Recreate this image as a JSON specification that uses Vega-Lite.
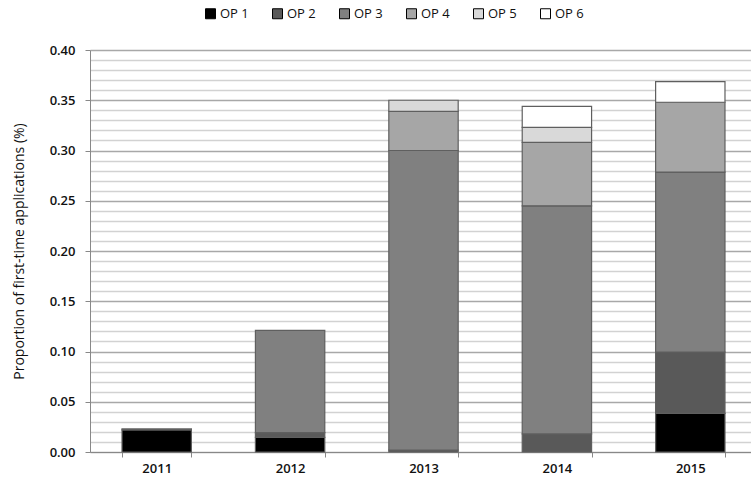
{
  "$schema": "https://vega.github.io/schema/vega-lite/v6.json",
  "width": 667,
  "height": 402,
  "autosize": "none",
  "padding": {"left": 90, "top": 50, "right": 0, "bottom": 35},
  "background": "white",
  "config": {
    "font": "Open Sans",
    "view": {"stroke": null},
    "axis": {"labelFont": "Open Sans", "titleFont": "Open Sans", "labelColor": "#111", "titleColor": "#111"}
  },
  "data": {
    "values": [
      {"year": "2011", "series": "OP 1", "value": 0.022},
      {"year": "2011", "series": "OP 3", "value": 0.001},
      {"year": "2012", "series": "OP 1", "value": 0.0145},
      {"year": "2012", "series": "OP 2", "value": 0.0047},
      {"year": "2012", "series": "OP 3", "value": 0.1018},
      {"year": "2013", "series": "OP 2", "value": 0.002},
      {"year": "2013", "series": "OP 3", "value": 0.298},
      {"year": "2013", "series": "OP 4", "value": 0.039},
      {"year": "2013", "series": "OP 5", "value": 0.011},
      {"year": "2014", "series": "OP 2", "value": 0.018},
      {"year": "2014", "series": "OP 3", "value": 0.227},
      {"year": "2014", "series": "OP 4", "value": 0.063},
      {"year": "2014", "series": "OP 5", "value": 0.015},
      {"year": "2014", "series": "OP 6", "value": 0.021},
      {"year": "2015", "series": "OP 1", "value": 0.0385},
      {"year": "2015", "series": "OP 2", "value": 0.061},
      {"year": "2015", "series": "OP 3", "value": 0.179},
      {"year": "2015", "series": "OP 4", "value": 0.0695},
      {"year": "2015", "series": "OP 6", "value": 0.0205}
    ]
  },
  "mark": {"type": "bar", "stroke": "#5f5f5f", "strokeWidth": 1.2},
  "encoding": {
    "x": {
      "field": "year",
      "type": "nominal",
      "scale": {"paddingInner": 0.48, "paddingOuter": 0.24},
      "axis": {
        "title": null,
        "labelAngle": 0,
        "labelFontSize": 13,
        "labelFontWeight": 600,
        "labelPadding": 5,
        "tickBand": "extent",
        "tickSize": 5,
        "tickColor": "#888",
        "domainColor": "#888",
        "grid": false
      }
    },
    "y": {
      "field": "value",
      "type": "quantitative",
      "stack": "zero",
      "scale": {"domain": [0, 0.4], "nice": false},
      "axis": {
        "title": "Proportion of first-time applications (%)",
        "titleFontSize": 14,
        "titleFontWeight": "normal",
        "titlePadding": 23,
        "values": [0, 0.01, 0.02, 0.03, 0.04, 0.05, 0.06, 0.07, 0.08, 0.09, 0.1, 0.11, 0.12, 0.13, 0.14, 0.15, 0.16, 0.17, 0.18, 0.19, 0.2, 0.21, 0.22, 0.23, 0.24, 0.25, 0.26, 0.27, 0.28, 0.29, 0.3, 0.31, 0.32, 0.33, 0.34, 0.35, 0.36, 0.37, 0.38, 0.39, 0.4],
        "labelExpr": "abs(datum.value*20 - round(datum.value*20)) < 0.001 ? format(datum.value, '.2f') : ''",
        "labelFontSize": 13,
        "labelFontWeight": 600,
        "labelPadding": 10,
        "tickSize": 5,
        "tickColor": "#888",
        "tickOpacity": {"condition": {"test": "abs(datum.value*20 - round(datum.value*20)) < 0.001", "value": 1}, "value": 0},
        "domainColor": "#888",
        "grid": true,
        "gridColor": {"condition": {"test": "abs(datum.value*20 - round(datum.value*20)) < 0.001", "value": "#a8a8a8"}, "value": "#d2d2d2"},
        "gridWidth": 1.5
      }
    },
    "color": {
      "field": "series",
      "type": "nominal",
      "scale": {
        "domain": ["OP 1", "OP 2", "OP 3", "OP 4", "OP 5", "OP 6"],
        "range": ["#000000", "#595959", "#808080", "#a6a6a6", "#d9d9d9", "#ffffff"]
      },
      "legend": {
        "title": null,
        "orient": "none",
        "direction": "horizontal",
        "legendX": 114,
        "legendY": -43,
        "symbolType": "square",
        "symbolSize": 100,
        "symbolStrokeColor": "#000",
        "symbolStrokeWidth": 1,
        "labelFontSize": 13,
        "labelFont": "Open Sans",
        "labelColor": "#111",
        "labelOffset": 3,
        "columnPadding": 21
      }
    },
    "order": {"field": "series", "sort": "ascending"}
  }
}
